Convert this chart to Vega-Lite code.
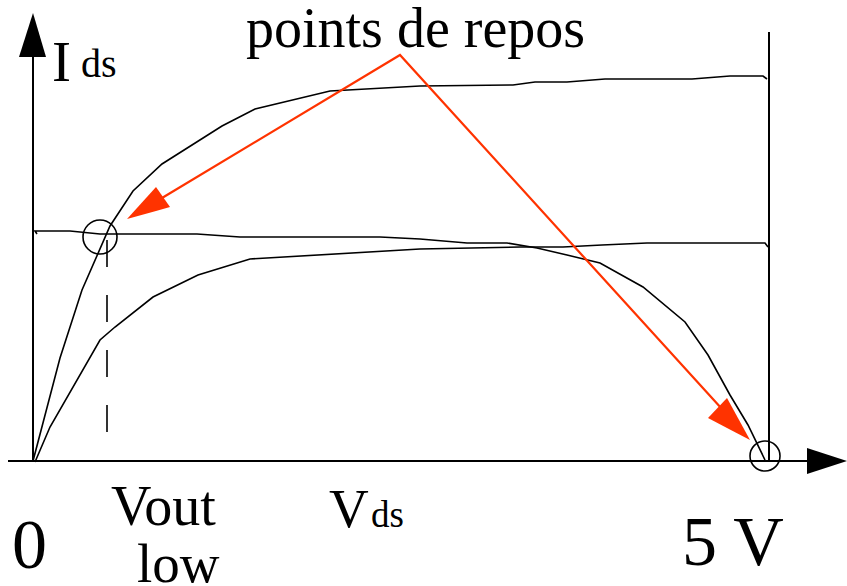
{
  "$schema": "https://vega.github.io/schema/vega-lite/v6.json",
  "width": 847,
  "height": 586,
  "padding": 0,
  "autosize": {"type": "none"},
  "config": {"view": {"stroke": null}},
  "datasets": {
    "curves": [
      {"s": "a", "i": 0, "x": 33, "y": 461}, {"s": "a", "i": 1, "x": 60, "y": 358}, {"s": "a", "i": 2, "x": 82, "y": 290},
      {"s": "a", "i": 3, "x": 110, "y": 226}, {"s": "a", "i": 4, "x": 133, "y": 191}, {"s": "a", "i": 5, "x": 162, "y": 164},
      {"s": "a", "i": 6, "x": 222, "y": 126}, {"s": "a", "i": 7, "x": 255, "y": 109}, {"s": "a", "i": 8, "x": 330, "y": 91},
      {"s": "a", "i": 9, "x": 420, "y": 86}, {"s": "a", "i": 10, "x": 513, "y": 85}, {"s": "a", "i": 11, "x": 535, "y": 82},
      {"s": "a", "i": 12, "x": 567, "y": 82}, {"s": "a", "i": 13, "x": 605, "y": 79}, {"s": "a", "i": 14, "x": 692, "y": 79},
      {"s": "a", "i": 15, "x": 730, "y": 76}, {"s": "a", "i": 16, "x": 763, "y": 76}, {"s": "a", "i": 17, "x": 767, "y": 79},
      {"s": "b", "i": 0, "x": 37, "y": 234}, {"s": "b", "i": 1, "x": 35, "y": 231}, {"s": "b", "i": 2, "x": 70, "y": 231},
      {"s": "b", "i": 3, "x": 100, "y": 234}, {"s": "b", "i": 4, "x": 197, "y": 234}, {"s": "b", "i": 5, "x": 240, "y": 237},
      {"s": "b", "i": 6, "x": 380, "y": 237}, {"s": "b", "i": 7, "x": 420, "y": 239}, {"s": "b", "i": 8, "x": 467, "y": 243},
      {"s": "b", "i": 9, "x": 507, "y": 243}, {"s": "b", "i": 10, "x": 537, "y": 248}, {"s": "b", "i": 11, "x": 567, "y": 255},
      {"s": "b", "i": 12, "x": 600, "y": 263}, {"s": "b", "i": 13, "x": 643, "y": 287}, {"s": "b", "i": 14, "x": 685, "y": 322},
      {"s": "b", "i": 15, "x": 708, "y": 355}, {"s": "b", "i": 16, "x": 730, "y": 395}, {"s": "b", "i": 17, "x": 748, "y": 425},
      {"s": "b", "i": 18, "x": 765, "y": 460},
      {"s": "c", "i": 0, "x": 35, "y": 462}, {"s": "c", "i": 1, "x": 50, "y": 427}, {"s": "c", "i": 2, "x": 100, "y": 340},
      {"s": "c", "i": 3, "x": 115, "y": 327}, {"s": "c", "i": 4, "x": 153, "y": 297}, {"s": "c", "i": 5, "x": 198, "y": 275},
      {"s": "c", "i": 6, "x": 250, "y": 259}, {"s": "c", "i": 7, "x": 420, "y": 249}, {"s": "c", "i": 8, "x": 520, "y": 247},
      {"s": "c", "i": 9, "x": 563, "y": 247}, {"s": "c", "i": 10, "x": 602, "y": 245}, {"s": "c", "i": 11, "x": 647, "y": 243},
      {"s": "c", "i": 12, "x": 765, "y": 243}, {"s": "c", "i": 13, "x": 768, "y": 247}
    ],
    "redlines": [
      {"s": "l", "i": 0, "x": 162, "y": 198}, {"s": "l", "i": 1, "x": 400, "y": 55}, {"s": "l", "i": 2, "x": 722, "y": 409}
    ],
    "vrules": [
      {"x": 33, "y": 50, "y2": 462},
      {"x": 769, "y": 32, "y2": 462}
    ],
    "hrules": [
      {"x": 8, "x2": 810, "y": 461}
    ],
    "blackheads": [
      {"g": "ya", "x": 19, "y": 57, "y2": 57}, {"g": "ya", "x": 33, "y": 13, "y2": 57}, {"g": "ya", "x": 46, "y": 57, "y2": 57},
      {"g": "xa", "x": 807, "y": 448, "y2": 474}, {"g": "xa", "x": 847, "y": 461, "y2": 461}
    ],
    "redheads": [
      {"g": "l", "x": 127, "y": 219, "y2": 219}, {"g": "l", "x": 156, "y": 187, "y2": 211}, {"g": "l", "x": 170, "y": 207, "y2": 207},
      {"g": "r", "x": 708, "y": 418, "y2": 418}, {"g": "r", "x": 727, "y": 398, "y2": 428}, {"g": "r", "x": 750, "y": 440, "y2": 440}
    ],
    "dash": [
      {"x": 107, "y": 240, "y2": 433}
    ],
    "circleL": [{"x": 100, "y": 237}],
    "circleR": [{"x": 765, "y": 456}],
    "t56": [
      {"t": "points de repos", "x": 246, "y": 47},
      {"t": "Vout", "x": 111, "y": 525}
    ],
    "t55": [
      {"t": "low", "x": 137, "y": 582},
      {"t": "V", "x": 329, "y": 527}
    ],
    "t57": [{"t": "I", "x": 52, "y": 81}],
    "t40": [{"t": "ds", "x": 81, "y": 77}],
    "t37": [{"t": "ds", "x": 371, "y": 527}],
    "t70": [
      {"t": "0", "x": 12, "y": 568},
      {"t": "5 V", "x": 682, "y": 565}
    ]
  },
  "encoding": {
    "x": {"field": "x", "type": "quantitative", "scale": {"domain": [0, 847], "nice": false, "zero": false}, "axis": null},
    "y": {"field": "y", "type": "quantitative", "scale": {"domain": [0, 586], "nice": false, "zero": false, "reverse": true}, "axis": null}
  },
  "layer": [
    {
      "data": {"name": "curves"},
      "mark": {"type": "line", "color": "black", "strokeWidth": 1.6},
      "encoding": {"detail": {"field": "s"}, "order": {"field": "i", "type": "quantitative"}}
    },
    {
      "data": {"name": "vrules"},
      "mark": {"type": "rule", "color": "black", "strokeWidth": 2},
      "encoding": {"y2": {"field": "y2"}}
    },
    {
      "data": {"name": "hrules"},
      "mark": {"type": "rule", "color": "black", "strokeWidth": 2},
      "encoding": {"x2": {"field": "x2"}}
    },
    {
      "data": {"name": "dash"},
      "mark": {"type": "rule", "color": "black", "strokeWidth": 1.6, "strokeDash": [27, 28]},
      "encoding": {"y2": {"field": "y2"}}
    },
    {
      "data": {"name": "blackheads"},
      "mark": {"type": "area", "color": "black"},
      "encoding": {"y2": {"field": "y2"}, "detail": {"field": "g"}}
    },
    {
      "data": {"name": "redlines"},
      "mark": {"type": "line", "color": "#ff3300", "strokeWidth": 2.2},
      "encoding": {"detail": {"field": "s"}, "order": {"field": "i", "type": "quantitative"}}
    },
    {
      "data": {"name": "redheads"},
      "mark": {"type": "area", "color": "#ff3300"},
      "encoding": {"y2": {"field": "y2"}, "detail": {"field": "g"}}
    },
    {
      "data": {"name": "circleL"},
      "mark": {"type": "point", "shape": "circle", "filled": false, "stroke": "black", "strokeWidth": 1.6, "size": 1156, "opacity": 1}
    },
    {
      "data": {"name": "circleR"},
      "mark": {"type": "point", "shape": "circle", "filled": false, "stroke": "black", "strokeWidth": 1.6, "size": 900, "opacity": 1}
    },
    {
      "data": {"name": "t56"},
      "mark": {"type": "text", "font": "Liberation Serif", "fontSize": 56, "align": "left", "baseline": "alphabetic", "color": "black"},
      "encoding": {"text": {"field": "t"}}
    },
    {
      "data": {"name": "t55"},
      "mark": {"type": "text", "font": "Liberation Serif", "fontSize": 55, "align": "left", "baseline": "alphabetic", "color": "black"},
      "encoding": {"text": {"field": "t"}}
    },
    {
      "data": {"name": "t57"},
      "mark": {"type": "text", "font": "Liberation Serif", "fontSize": 57, "align": "left", "baseline": "alphabetic", "color": "black"},
      "encoding": {"text": {"field": "t"}}
    },
    {
      "data": {"name": "t40"},
      "mark": {"type": "text", "font": "Liberation Serif", "fontSize": 40, "align": "left", "baseline": "alphabetic", "color": "black"},
      "encoding": {"text": {"field": "t"}}
    },
    {
      "data": {"name": "t37"},
      "mark": {"type": "text", "font": "Liberation Serif", "fontSize": 37, "align": "left", "baseline": "alphabetic", "color": "black"},
      "encoding": {"text": {"field": "t"}}
    },
    {
      "data": {"name": "t70"},
      "mark": {"type": "text", "font": "Liberation Serif", "fontSize": 70, "align": "left", "baseline": "alphabetic", "color": "black"},
      "encoding": {"text": {"field": "t"}}
    }
  ]
}
